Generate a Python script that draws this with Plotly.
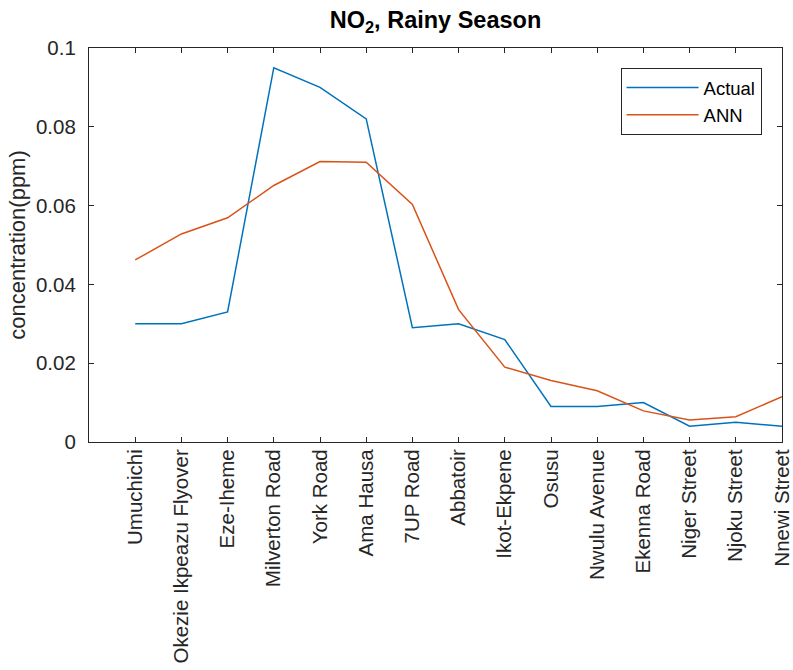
import plotly.graph_objects as go

sites = ["Umuchichi", "Okezie Ikpeazu Flyover", "Eze-Iheme", "Milverton Road", "York Road",
         "Ama Hausa", "7UP Road", "Abbatoir", "Ikot-Ekpene", "Osusu", "Nwulu Avenue",
         "Ekenna Road", "Niger Street", "Njoku Street", "Nnewi Street"]
x_pos = list(range(1, 16))
actual = [0.030, 0.030, 0.033, 0.095, 0.090, 0.082, 0.029, 0.030, 0.026, 0.009, 0.009,
          0.010, 0.004, 0.005, 0.004]
ann = [0.0462, 0.0528, 0.0569, 0.0651, 0.0712, 0.0710, 0.0603, 0.0336, 0.0190, 0.0156,
       0.0130, 0.0079, 0.0056, 0.0064, 0.0115]
y_ticks = [0, 0.02, 0.04, 0.06, 0.08, 0.1]
y_tick_text = ["0", "0.02", "0.04", "0.06", "0.08", "0.1"]

FONT = "Liberation Sans, Arial, Helvetica, sans-serif"
AX = "#262626"

fig = go.Figure()
fig.add_trace(go.Scatter(x=x_pos, y=actual, mode="lines", name="Actual",
                         line=dict(color="#0072BD", width=1.5)))
fig.add_trace(go.Scatter(x=x_pos, y=ann, mode="lines", name="ANN",
                         line=dict(color="#D95319", width=1.5)))

fig.update_layout(
    width=793, height=670,
    margin=dict(l=88.5, r=11, t=48, b=228, autoexpand=False),
    paper_bgcolor="white", plot_bgcolor="white",
    font=dict(family=FONT, size=20.5, color=AX),
    title=dict(text="<b>NO<sub>2</sub>, Rainy Season</b>", x=0.5, xref="paper",
               y=0.971, yanchor="middle", font=dict(family=FONT, size=23.5, color="black")),
    showlegend=True,
    legend=dict(x=0.9705, xanchor="right", y=0.949, yanchor="top",
                bordercolor=AX, borderwidth=1, bgcolor="white",
                font=dict(family=FONT, size=18.5, color="black"),
                tracegroupgap=0, itemwidth=72),
)
fig.update_xaxes(range=[0, 15], tickvals=x_pos, ticktext=sites, tickangle=-90,
                 showline=True, linecolor=AX, linewidth=1.2, mirror="ticks",
                 ticks="inside", ticklen=5, tickwidth=1.2, tickcolor=AX,
                 showgrid=False, zeroline=False, ticklabelstandoff=-2, automargin=False,
                 tickfont=dict(family=FONT, size=20.5, color=AX))
fig.update_yaxes(range=[0, 0.1], tickvals=y_ticks, ticktext=y_tick_text,
                 showline=True, linecolor=AX, linewidth=1.2, mirror="ticks",
                 ticks="inside", ticklen=5, tickwidth=1.2, tickcolor=AX,
                 showgrid=False, zeroline=False, ticklabelstandoff=8, automargin=False,
                 tickfont=dict(family=FONT, size=20.5, color=AX),
                 title=dict(text="concentration(ppm)", standoff=4,
                            font=dict(family=FONT, size=22, color=AX)))

fig.write_html("out.html", config={"displayModeBar": False},
               post_script="document.body.style.margin='0';")
